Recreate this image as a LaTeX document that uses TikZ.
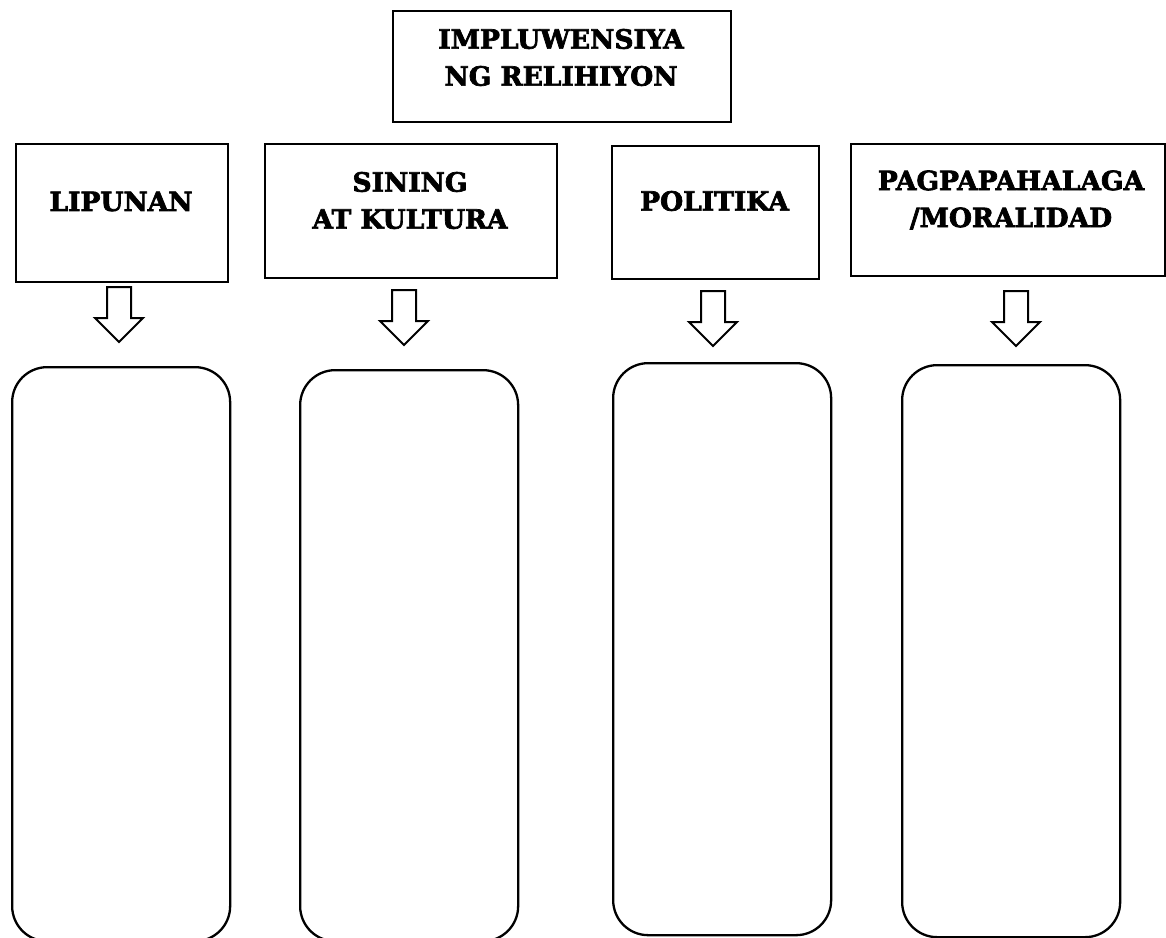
\documentclass[tikz,border=0pt]{standalone}
\usepackage{fontspec}
\setmainfont{DejaVu Serif}
\newfontfamily\ttlfont{DejaVu Serif Bold}[FakeBold=2.6]
\begin{document}
\begin{tikzpicture}[x=1pt,y=-1pt,
  hbox/.style={draw, line width=2.3pt, rectangle, anchor=north west, inner sep=0pt},
  rbox/.style={draw, line width=2.3pt, rectangle, rounded corners=35pt, anchor=north west, inner sep=0pt, minimum width=218pt},
  ttl/.style={font=\ttlfont\fontsize{26.5}{37}\selectfont, align=center, inner sep=0pt, anchor=center},
  downarrow/.pic={\draw[line width=2pt, line join=miter]
     (-12,0) -- (12,0) -- (12,31) -- (24,31) -- (0,55) -- (-24,31) -- (-12,31) -- cycle;}
]
\useasboundingbox (0,0) rectangle (1166,937);
% header boxes
\node[hbox, minimum width=338pt, minimum height=111pt] (top) at (392,10) {};
\node[ttl] (ttop) at (561,57.5) {IMPLUWENSIYA\\NG RELIHIYON};
\node[hbox, minimum width=212pt, minimum height=138pt] (lip) at (15,143) {};
\node[ttl] (tlip) at (121,201.5) {LIPUNAN};
\node[hbox, minimum width=292pt, minimum height=134pt] (sin) at (264,143) {};
\node[ttl] (tsin) at (410,200.5) {SINING\\AT KULTURA};
\node[hbox, minimum width=207pt, minimum height=133pt] (pol) at (611,145) {};
\node[ttl] (tpol) at (714.5,201) {POLITIKA};
\node[hbox, minimum width=314pt, minimum height=132pt] (pag) at (850,143) {};
\node[ttl] (tpag) at (1011,200) {PAGPAPAHALAGA\\/MORALIDAD};
% block arrows
\pic (ar1) at (119,287) {downarrow};
\pic (ar2) at (404,290) {downarrow};
\pic (ar3) at (713,291) {downarrow};
\pic (ar4) at (1016,291) {downarrow};
% rounded answer boxes
\node[rbox, minimum height=574pt] (r1) at (11,366) {};
\node[rbox, minimum height=571pt] (r2) at (299,369) {};
\node[rbox, minimum height=572pt] (r3) at (612,362) {};
\node[rbox, minimum height=572pt] (r4) at (901,364) {};
\end{tikzpicture}
\end{document}
